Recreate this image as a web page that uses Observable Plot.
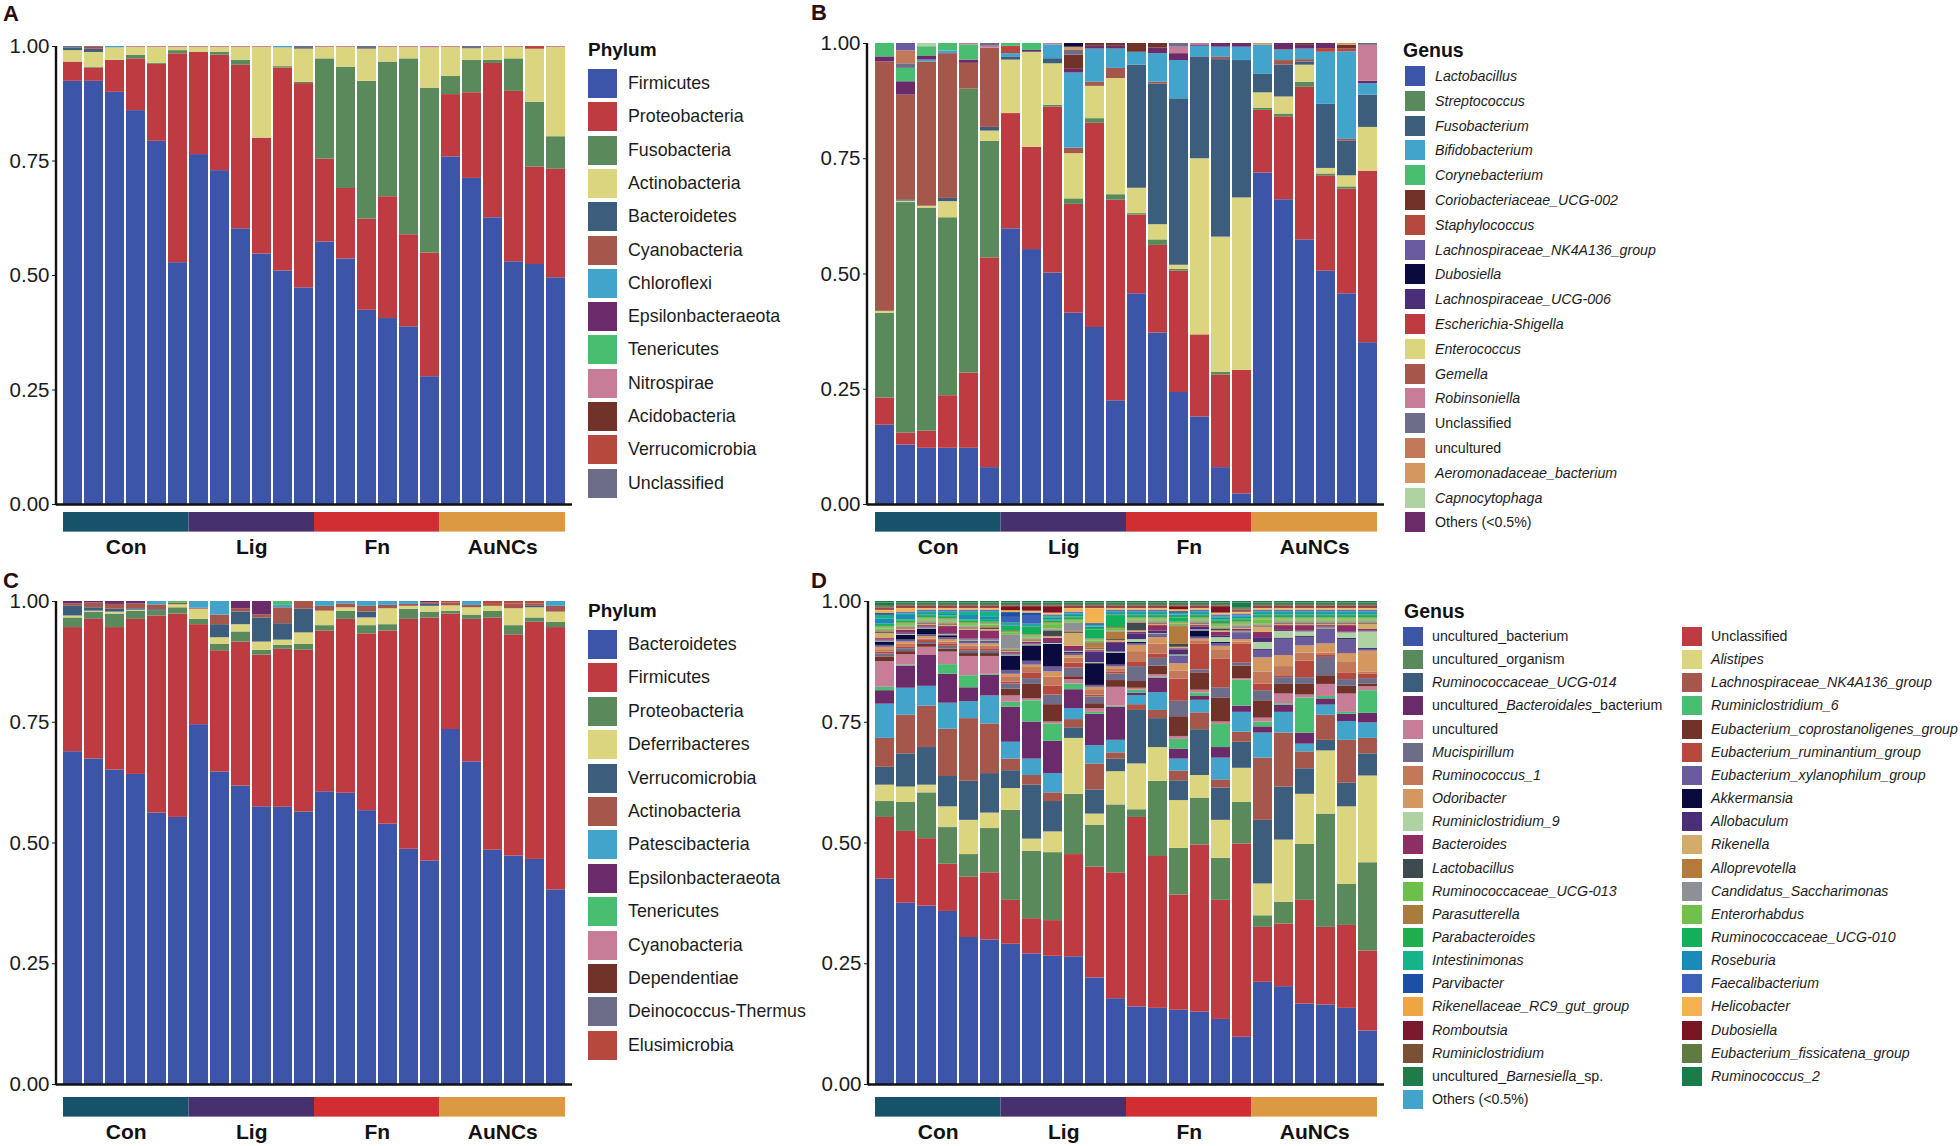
<!DOCTYPE html>
<html><head><meta charset="utf-8">
<script src="https://cdn.jsdelivr.net/npm/d3@7"></script>
<script src="https://cdn.jsdelivr.net/npm/@observablehq/plot@0.6"></script>
<style>
html,body{margin:0;padding:0;background:#fff}
body{width:1960px;height:1146px;position:relative;overflow:hidden;font-family:Arial,"Liberation Sans",sans-serif;color:#1c1c1c}
.abs{position:absolute}
.letter{position:absolute;font-weight:bold;font-size:22px;line-height:22px;color:#2a0d0d}
.ltitle{position:absolute;font-weight:bold;white-space:nowrap;color:#111}
.sw{position:absolute}
.lt{position:absolute;white-space:nowrap;color:#1c1c1c}
</style></head><body>
<script>
// ---------- shared ----------
const samples = ["Con1","Con2","Con3","Con4","Con5","Con6","Lig1","Lig2","Lig3","Lig4","Lig5","Lig6","Fn1","Fn2","Fn3","Fn4","Fn5","Fn6","AuNCs1","AuNCs2","AuNCs3","AuNCs4","AuNCs5","AuNCs6"];
const groups = ["Con","Lig","Fn","AuNCs"];
const groupSizes = [6,6,6,6];
const groupColors = ["#16536B","#46306E","#D12E33","#DB9A41"];
const yTicks = [0,0.25,0.5,0.75,1];

// ---------- Panel A: Phylum ----------
const aFirmicutes      = [.924,.924,.900,.860,.793,.528,.764,.729,.602,.547,.510,.473,.573,.536,.424,.406,.388,.279,.759,.712,.626,.530,.524,.495];
const aProteobacteria  = [.042,.029,.070,.113,.168,.456,.223,.252,.357,.253,.443,.446,.181,.154,.199,.266,.201,.270,.136,.187,.337,.372,.213,.237];
const aFusobacteria    = [0,.002,0,.008,.002,.007,0,.006,.011,0,.003,.003,.219,.265,.301,.294,.384,.360,.040,.071,.007,.071,.141,.071];
const aActinobacteria  = [.025,.032,.027,.017,.035,.007,.011,.011,.028,.198,.041,.072,.025,.043,.070,.032,.025,.088,.063,.025,.028,.025,.116,.195];
const aBacteroidetes   = [.006,.007,0,0,0,0,0,0,0,0,0,0,0,0,0,0,0,0,0,0,0,0,0,0];
const aCyanobacteria   = [0,0,0,0,0,0,0,0,0,0,0,0,0,0,0,0,0,0,0,0,0,0,0,0];
const aChloroflexi     = [0,0,.003,0,0,0,0,0,0,0,.003,0,0,0,0,0,0,0,0,0,0,0,0,0];
const aEpsilon         = [0,0,0,0,0,0,0,0,0,0,0,0,0,0,0,0,0,0,0,0,0,0,0,0];
const aTenericutes     = [0,0,0,0,0,0,0,0,0,0,0,0,0,0,0,0,0,0,0,0,0,0,0,0];
const aNitrospirae     = [0,0,0,.002,.002,.002,.002,.002,.002,.002,0,0,.002,.002,0,.002,.002,.003,.002,0,.002,.002,0,.002];
const aAcidobacteria   = [0,0,0,0,0,0,0,0,0,0,0,0,0,0,0,0,0,0,0,0,0,0,0,0];
const aVerrucomicrobia = [0,.004,0,0,0,0,0,0,0,0,0,0,0,0,0,0,0,0,0,0,0,0,.006,0];
const aUnclassified    = [.003,.002,0,0,0,0,0,0,0,0,0,.006,0,0,.006,0,0,0,0,.005,0,0,0,0];
const aLegend = ["Firmicutes","Proteobacteria","Fusobacteria","Actinobacteria","Bacteroidetes","Cyanobacteria","Chloroflexi","Epsilonbacteraeota","Tenericutes","Nitrospirae","Acidobacteria","Verrucomicrobia","Unclassified"];
const aColors = ["#3C55A9","#BE3B41","#5A8A5C","#DCD57F","#3C5D7B","#A4574A","#42A3CB","#6B2B6B","#49BE71","#C77C98","#71322A","#B7483E","#6E6D89"];

// ---------- Panel B: Genus ----------
const bLactobacillus   = [.172,.129,.122,.122,.122,.080,.598,.553,.502,.415,.384,.225,.457,.372,.243,.190,.080,.023,.719,.661,.574,.506,.457,.351];
const bEscherichia     = [.059,.026,.037,.114,.163,.455,.250,.222,.360,.236,.443,.435,.171,.190,.263,.178,.201,.268,.136,.180,.331,.207,.227,.372];
const bStreptococcus   = [.184,.500,.484,.386,.616,.253,0,0,.004,.012,.010,.012,.003,.012,.004,0,.006,0,.004,.006,.011,.004,.005,0];
const bEnterococcus    = [.004,.003,.004,.035,0,.022,.116,.206,.090,.098,.070,.252,.055,.033,.009,.382,.293,.374,.034,.037,.037,.012,.024,.095];
const bFusobacterium   = [0,.003,0,.007,0,.008,.007,0,.011,0,0,0,.267,.305,.361,.221,.385,.298,.040,.069,.007,.139,.075,.070];
const bGemella         = [.541,.227,.313,.314,.056,.172,0,0,0,.012,.009,.022,0,.004,0,0,.005,0,0,.010,.005,0,.004,0];
const bBifidobacterium = [0,0,.004,.006,0,0,.007,0,.030,.163,.072,.042,.028,.062,.083,.023,.022,.029,.063,.023,.023,.113,.190,.025];
const bStaphylococcus  = [0,0,0,0,0,0,.016,0,0,0,0,0,0,0,0,0,0,0,0,0,0,.008,.006,0];
const bOthers          = [.011,.029,.009,0,.007,0,0,.004,0,.008,.006,.006,0,.012,.015,.003,.008,.008,0,.014,.008,.011,0,.005];
const bCoriobacteriaceae = [0,0,0,0,0,0,0,0,0,.031,.006,.006,.019,.010,0,0,0,0,0,0,.004,0,.008,0];
const bCorynebacterium = [.029,.029,.020,.016,.033,0,.006,.015,0,0,0,0,0,0,0,0,0,0,0,0,0,0,0,0];
const bRobinsoniella   = [0,0,0,0,.003,.004,0,0,.003,0,0,0,0,0,.014,.003,0,0,0,0,0,0,0,.078];
const bUnclassified    = [0,.010,0,0,0,.006,0,0,0,.010,0,0,0,0,.008,0,0,0,0,0,0,0,0,.004];
const bLachnoUCG006    = [0,0,0,0,0,0,0,0,0,0,0,0,0,0,0,0,0,0,0,0,0,0,0,0];
const bUncultured      = [0,.028,0,0,0,0,0,0,0,0,0,0,0,0,0,0,0,0,0,0,0,0,0,0];
const bAeromonadaceae  = [0,0,0,0,0,0,0,0,0,.007,0,0,0,0,0,0,0,0,.004,0,0,0,.004,0];
const bCapnocytophaga  = [0,0,.007,0,0,0,0,0,0,0,0,0,0,0,0,0,0,0,0,0,0,0,0,0];
const bLachnoNK        = [0,.016,0,0,0,0,0,0,0,0,0,0,0,0,0,0,0,0,0,0,0,0,0,0];
const bDubosiella      = [0,0,0,0,0,0,0,0,0,.008,0,0,0,0,0,0,0,0,0,0,0,0,0,0];
const bLegend = ["Lactobacillus","Streptococcus","Fusobacterium","Bifidobacterium","Corynebacterium","Coriobacteriaceae_UCG-002","Staphylococcus","Lachnospiraceae_NK4A136_group","Dubosiella","Lachnospiraceae_UCG-006","Escherichia-Shigella","Enterococcus","Gemella","Robinsoniella","Unclassified","uncultured","Aeromonadaceae_bacterium","Capnocytophaga","Others (<0.5%)"];
const bColors = ["#3C55A9","#5A8A5C","#3C5D7B","#42A3CB","#49BE71","#71322A","#B7483E","#6A5B9F","#0B0A3F","#4A2F78","#BE3B41","#DCD57F","#A4574A","#C77C98","#6E6D89","#C4785A","#D4975F","#AFD2A2","#6B2B6B"];

// ---------- Panel C: Phylum ----------
const cBacteroidetes   = [.689,.674,.651,.642,.562,.553,.745,.647,.618,.575,.574,.564,.606,.603,.567,.539,.487,.463,.735,.668,.485,.473,.466,.403];
const cFirmicutes      = [.257,.289,.295,.321,.408,.421,.207,.251,.298,.314,.327,.335,.333,.360,.366,.400,.476,.503,.239,.295,.481,.458,.491,.543];
const cProteobacteria  = [.020,.015,.028,.017,.010,.013,.011,.013,.021,.010,.008,.012,.011,.017,.017,.013,.021,.012,.006,.009,.014,.019,.009,.011];
const cDeferribacteres = [.004,.002,.004,.002,0,.006,.021,.014,.015,.017,.011,.024,.030,.007,.016,.033,.006,.012,.011,.015,.010,.035,.021,.021];
const cVerrucomicrobia = [.020,.007,.006,.003,.003,0,0,.027,.026,.050,.034,.049,0,0,.012,0,0,.004,0,0,0,0,.003,0];
const cActinobacteria  = [.005,.010,.010,.010,.010,.003,.002,.020,.007,.006,.033,.016,.010,.008,.012,.007,.004,.003,.006,.005,.004,.010,.005,.012];
const cPatescibacteria = [0,0,0,0,.007,0,.014,.028,0,0,.005,0,.010,.005,.010,.008,.006,0,0,.008,0,0,0,.010];
const cEpsilon         = [.005,.003,.006,.005,0,0,0,0,.015,.028,0,0,0,0,0,0,0,.003,0,0,0,0,0,0];
const cTenericutes     = [0,0,0,0,0,.004,0,0,0,0,.008,0,0,0,0,0,0,0,0,0,0,0,0,0];
const cCyanobacteria   = [0,0,0,0,0,0,0,0,0,0,0,0,0,0,0,0,0,0,0,0,0,0,0,0];
const cDependentiae    = [0,0,0,0,0,0,0,0,0,0,0,0,0,0,0,0,0,0,0,0,0,0,0,0];
const cDeinococcus     = [0,0,0,0,0,0,0,0,0,0,0,0,0,0,0,0,0,0,0,0,0,0,0,0];
const cElusimicrobia   = [0,0,0,0,0,0,0,0,0,0,0,0,0,0,0,0,0,0,.003,0,.006,.005,.005,0];
const cLegend = ["Bacteroidetes","Firmicutes","Proteobacteria","Deferribacteres","Verrucomicrobia","Actinobacteria","Patescibacteria","Epsilonbacteraeota","Tenericutes","Cyanobacteria","Dependentiae","Deinococcus-Thermus","Elusimicrobia"];
const cColors = ["#3C55A9","#BE3B41","#5A8A5C","#DCD57F","#3C5D7B","#A4574A","#42A3CB","#6B2B6B","#49BE71","#C77C98","#71322A","#6E6D89","#B7483E"];

// ---------- Panel D: Genus ----------
const dUnculturedBacterium = [.426,.376,.370,.359,.305,.300,.291,.271,.266,.265,.221,.178,.161,.158,.154,.150,.135,.098,.212,.203,.167,.165,.158,.111];
const dUnclassified        = [.128,.149,.140,.098,.125,.139,.091,.073,.074,.212,.230,.261,.393,.315,.239,.347,.247,.401,.114,.130,.215,.161,.172,.166];
const dUnculturedOrganism  = [.033,.060,.095,.076,.047,.092,.187,.140,.141,.125,.087,.141,.016,.156,.097,.097,.087,.086,.024,.045,.116,.235,.085,.183];
const dAlistipes           = [.034,.032,.016,.043,.071,.032,.045,.025,.043,.116,.023,.069,.095,.070,.099,.047,.079,.071,.066,.129,.104,.131,.161,.180];
const dRumUCG014           = [.037,.069,.078,.063,.081,.082,.037,.112,.063,.022,.050,.026,.111,.060,.041,.095,.067,.054,.132,.110,.053,.022,.049,.046];
const dLachnoNK            = [.060,.080,.086,.098,.130,.103,.024,.020,.018,.017,.054,.013,.012,.017,.020,.035,.017,.021,.129,.112,.035,.052,.089,.032];
const dOthers              = [.071,.056,.041,.054,.035,.058,.035,.034,.040,.023,.038,.026,.019,.037,.025,.026,.045,.041,.052,.043,.016,.021,.039,.032];
const dUnculturedBacteroidales = [.028,.046,.064,.060,.029,.043,.073,.077,.067,.039,.065,.069,.005,.030,.021,.008,.022,.013,.013,.015,.023,.013,.015,.020];
const dRuminiclostridium6  = [.007,.002,0,.020,.025,.002,.010,.044,.036,.012,.004,.002,.006,.002,.020,.007,.048,.054,.010,.003,.073,.005,.004,.047];
const dUncultured          = [.053,.022,.017,.026,.040,.037,.013,.004,.004,.009,.008,.039,.004,.005,.006,.006,.005,.003,.008,.020,.006,.025,.038,.008];
const dEcopro              = [.010,.006,.006,.006,.006,.006,.014,.030,.036,.006,.010,.014,.014,.018,.041,.036,.050,.026,.036,.020,.022,.018,.016,.006];
const dMucispirillum       = [.006,.006,.004,.006,.006,.006,.011,.012,.020,.018,.014,.014,.031,.016,.032,.006,.021,.006,.021,.014,.014,.038,.014,.011];
const dErumin              = [.004,.004,.004,.004,.004,.004,.004,.012,.018,.010,.004,.004,.010,.009,.046,.054,.060,.039,.014,.004,.034,.004,.014,.009];
const dRuminococcus1       = [.005,.005,.003,.005,.005,.005,.011,.011,.019,.011,.011,.005,.021,.021,.017,.005,.019,.005,.025,.019,.017,.005,.023,.005];
const dOdoribacter         = [.005,.005,.005,.005,.005,.005,.005,.005,.011,.005,.005,.005,.013,.013,.015,.005,.007,.005,.029,.023,.015,.019,.017,.043];
const dExylano             = [.004,.004,.004,.004,.004,.004,.008,.008,.010,.004,.004,.004,.004,.004,.014,.004,.006,.012,.016,.034,.018,.029,.029,.004];
const dAkkermansia         = [.007,.010,.012,.004,.002,.002,.030,.032,.047,.002,.045,.025,.002,.002,.002,.013,.002,.002,.002,.002,.002,.002,.002,.002];
const dRuminiclostridium9  = [.002,.002,.002,.002,.002,.002,.002,.002,.002,.002,.002,.002,.006,.002,.002,.002,.010,.002,.014,.014,.009,.002,.012,.034];
const dAllobaculum         = [.002,.002,.002,.002,.002,.002,.002,.002,.002,.002,.022,.018,.012,.006,.010,.006,.004,.002,.010,.002,.002,.002,.002,.002];
const dBacteroides         = [.003,.006,.003,.015,.018,.017,.003,.003,.009,.009,.003,.003,.003,.011,.003,.003,.007,.003,.011,.010,.011,.003,.013,.003];
const dRikenella           = [.011,.003,.003,.003,.003,.003,.003,.003,.003,.027,.003,.003,.003,.003,.003,.003,.003,.003,.011,.003,.003,.003,.003,.011];
const dLactobacillus       = [.002,.002,.002,.002,.002,.002,.002,.002,.012,.002,.002,.002,.016,.002,.006,.002,.004,.002,.002,.002,.002,.002,.002,.002];
const dAlloprevotella      = [.002,.002,.002,.002,.002,.002,.002,.002,.002,.002,.010,.016,.002,.002,.037,.002,.002,.002,.002,.002,.002,.002,.002,.002];
const dCandidatus          = [.002,.002,.002,.002,.002,.002,.030,.002,.002,.017,.002,.002,.002,.002,.002,.002,.002,.002,.002,.002,.002,.002,.002,.002];
const dRumUCG013           = [.003,.003,.003,.003,.003,.003,.003,.003,.009,.003,.003,.003,.003,.003,.003,.003,.003,.003,.009,.003,.003,.003,.003,.003];
const dEnterorhabdus       = [.002,.002,.002,.002,.002,.002,.002,.002,.002,.002,.002,.002,.002,.002,.002,.002,.002,.002,.002,.002,.002,.002,.002,.002];
const dParasutterella      = [.002,.002,.002,.002,.002,.002,.002,.002,.002,.002,.002,.002,.002,.002,.002,.002,.002,.002,.002,.002,.002,.002,.002,.002];
const dRumUCG010           = [.003,.003,.003,.003,.003,.003,.008,.013,.003,.003,.019,.023,.003,.003,.009,.003,.005,.003,.003,.003,.003,.003,.003,.003];
const dParabacteroides     = [.003,.003,.003,.003,.003,.003,.003,.003,.003,.003,.003,.003,.003,.003,.003,.003,.003,.003,.003,.003,.003,.003,.003,.003];
const dRoseburia           = [.011,.009,.003,.003,.009,.006,.003,.003,.003,.003,.003,.003,.003,.003,.003,.003,.003,.003,.003,.003,.003,.003,.003,.003];
const dIntestinimonas      = [.007,.003,.003,.005,.007,.011,.003,.003,.003,.003,.003,.003,.003,.003,.003,.003,.003,.003,.003,.003,.003,.003,.003,.003];
const dFaecalibacterium    = [.002,.002,.002,.002,.002,.002,.012,.018,.002,.002,.002,.002,.002,.002,.002,.002,.002,.002,.002,.002,.002,.002,.002,.002];
const dParvibacter         = [.002,.002,.002,.002,.002,.002,.010,.005,.002,.002,.002,.002,.002,.002,.002,.002,.002,.002,.002,.002,.002,.002,.002,.002];
const dHelicobacter        = [.005,.006,.002,.002,.002,.002,.002,.002,.002,.006,.030,.002,.002,.002,.002,.002,.002,.002,.002,.002,.002,.002,.002,.002];
const dRC9                 = [.002,.002,.002,.002,.002,.002,.002,.002,.002,.002,.002,.002,.002,.002,.002,.002,.002,.002,.002,.002,.002,.002,.002,.002];
const dDubosiella          = [.002,.002,.002,.002,.002,.002,.007,.008,.012,.002,.002,.002,.002,.002,.005,.002,.012,.002,.002,.002,.002,.002,.002,.002];
const dRomboutsia          = [.002,.002,.002,.002,.002,.002,.002,.002,.002,.002,.002,.002,.002,.002,.002,.002,.002,.002,.002,.002,.002,.002,.002,.002];
const dEfissicatena        = [.002,.002,.002,.002,.002,.002,.002,.002,.002,.002,.002,.002,.002,.002,.002,.002,.002,.002,.002,.002,.002,.002,.002,.002];
const dRuminiclostridium   = [.002,.002,.002,.002,.002,.002,.002,.002,.002,.002,.002,.002,.002,.002,.002,.002,.002,.002,.002,.002,.002,.002,.002,.002];
const dRuminococcus2       = [.007,.003,.003,.003,.003,.003,.003,.003,.003,.003,.003,.003,.003,.003,.003,.003,.003,.011,.003,.003,.003,.003,.003,.003];
const dBarnesiella         = [.003,.003,.003,.003,.003,.003,.003,.003,.003,.003,.003,.003,.003,.003,.003,.003,.003,.003,.003,.003,.003,.003,.003,.003];
const dLegendLeft = ["uncultured_bacterium","uncultured_organism","Ruminococcaceae_UCG-014","uncultured_Bacteroidales_bacterium","uncultured","Mucispirillum","Ruminococcus_1","Odoribacter","Ruminiclostridium_9","Bacteroides","Lactobacillus","Ruminococcaceae_UCG-013","Parasutterella","Parabacteroides","Intestinimonas","Parvibacter","Rikenellaceae_RC9_gut_group","Romboutsia","Ruminiclostridium","uncultured_Barnesiella_sp.","Others (<0.5%)"];
const dColorsLeft = ["#3C55A9","#5A8A5C","#3C5D7B","#6B2B6B","#C77C98","#6E6D89","#C4785A","#D4975F","#AFD2A2","#8F2D65","#3F4A50","#6CBF47","#A97B3D","#1EAF4C","#14B48A","#1E4FA6","#F1A542","#7B1A2F","#7A5135","#1F7B49","#42A3CB"];
const dLegendRight = ["Unclassified","Alistipes","Lachnospiraceae_NK4A136_group","Ruminiclostridium_6","Eubacterium_coprostanoligenes_group","Eubacterium_ruminantium_group","Eubacterium_xylanophilum_group","Akkermansia","Allobaculum","Rikenella","Alloprevotella","Candidatus_Saccharimonas","Enterorhabdus","Ruminococcaceae_UCG-010","Roseburia","Faecalibacterium","Helicobacter","Dubosiella","Eubacterium_fissicatena_group","Ruminococcus_2"];
const dColorsRight = ["#BE3B41","#DCD57F","#A4574A","#49BE71","#71322A","#B7483E","#6A5B9F","#0B0A3F","#4A2F78","#D3AB6B","#B27B3B","#8D9195","#72C04C","#12B05A","#1A8BB9","#3B62B8","#F3B14F","#7A1623","#5F7B3F","#1A7B4B"];

// ---------- series in stacking order (bottom to top) ----------
const seriesA = [["Firmicutes",aFirmicutes],["Proteobacteria",aProteobacteria],["Fusobacteria",aFusobacteria],["Actinobacteria",aActinobacteria],["Bacteroidetes",aBacteroidetes],["Cyanobacteria",aCyanobacteria],["Chloroflexi",aChloroflexi],["Epsilonbacteraeota",aEpsilon],["Tenericutes",aTenericutes],["Nitrospirae",aNitrospirae],["Acidobacteria",aAcidobacteria],["Verrucomicrobia",aVerrucomicrobia],["Unclassified",aUnclassified]];
const seriesB = [["Lactobacillus",bLactobacillus],["Escherichia-Shigella",bEscherichia],["Streptococcus",bStreptococcus],["Enterococcus",bEnterococcus],["Fusobacterium",bFusobacterium],["Gemella",bGemella],["Bifidobacterium",bBifidobacterium],["Staphylococcus",bStaphylococcus],["Others (<0.5%)",bOthers],["Coriobacteriaceae_UCG-002",bCoriobacteriaceae],["Corynebacterium",bCorynebacterium],["Robinsoniella",bRobinsoniella],["Unclassified",bUnclassified],["Lachnospiraceae_UCG-006",bLachnoUCG006],["uncultured",bUncultured],["Aeromonadaceae_bacterium",bAeromonadaceae],["Capnocytophaga",bCapnocytophaga],["Lachnospiraceae_NK4A136_group",bLachnoNK],["Dubosiella",bDubosiella]];
const seriesC = [["Bacteroidetes",cBacteroidetes],["Firmicutes",cFirmicutes],["Proteobacteria",cProteobacteria],["Deferribacteres",cDeferribacteres],["Verrucomicrobia",cVerrucomicrobia],["Actinobacteria",cActinobacteria],["Patescibacteria",cPatescibacteria],["Epsilonbacteraeota",cEpsilon],["Tenericutes",cTenericutes],["Cyanobacteria",cCyanobacteria],["Dependentiae",cDependentiae],["Deinococcus-Thermus",cDeinococcus],["Elusimicrobia",cElusimicrobia]];
const seriesD = [["uncultured_bacterium",dUnculturedBacterium],["Unclassified",dUnclassified],["uncultured_organism",dUnculturedOrganism],["Alistipes",dAlistipes],["Ruminococcaceae_UCG-014",dRumUCG014],["Lachnospiraceae_NK4A136_group",dLachnoNK],["Others (<0.5%)",dOthers],["uncultured_Bacteroidales_bacterium",dUnculturedBacteroidales],["Ruminiclostridium_6",dRuminiclostridium6],["uncultured",dUncultured],["Eubacterium_coprostanoligenes_group",dEcopro],["Mucispirillum",dMucispirillum],["Eubacterium_ruminantium_group",dErumin],["Ruminococcus_1",dRuminococcus1],["Odoribacter",dOdoribacter],["Eubacterium_xylanophilum_group",dExylano],["Akkermansia",dAkkermansia],["Ruminiclostridium_9",dRuminiclostridium9],["Allobaculum",dAllobaculum],["Bacteroides",dBacteroides],["Rikenella",dRikenella],["Lactobacillus",dLactobacillus],["Alloprevotella",dAlloprevotella],["Candidatus_Saccharimonas",dCandidatus],["Ruminococcaceae_UCG-013",dRumUCG013],["Enterorhabdus",dEnterorhabdus],["Parasutterella",dParasutterella],["Ruminococcaceae_UCG-010",dRumUCG010],["Parabacteroides",dParabacteroides],["Roseburia",dRoseburia],["Intestinimonas",dIntestinimonas],["Faecalibacterium",dFaecalibacterium],["Parvibacter",dParvibacter],["Helicobacter",dHelicobacter],["Rikenellaceae_RC9_gut_group",dRC9],["Dubosiella",dDubosiella],["Romboutsia",dRomboutsia],["Eubacterium_fissicatena_group",dEfissicatena],["Ruminiclostridium",dRuminiclostridium],["Ruminococcus_2",dRuminococcus2],["uncultured_Barnesiella_sp.",dBarnesiella]];

// ---------- helpers ----------
const FONT = "Arial, 'Liberation Sans', sans-serif";
function buildTable(series){
  const rows=[];
  for(const [taxon,vals] of series) vals.forEach((v,i)=>{ if(v>0) rows.push({sample:samples[i],taxon,value:v}); });
  return rows;
}
function place(el,left,top){ const d=document.createElement("div"); d.className="abs"; d.style.left=left+"px"; d.style.top=top+"px"; d.appendChild(el); document.body.appendChild(d); }

function panel(cfg){
  const {left,top,width,height,mL,mT,mB,series,legendDomain,colors,stripTop} = cfg;
  const table = buildTable(series);
  const plot = Plot.plot({
    width, height, marginLeft:mL, marginRight:2, marginTop:mT, marginBottom:mB,
    style:{fontFamily:FONT,fontSize:"20.5px",color:"#1c1c1c",background:"transparent",overflow:"visible"},
    x:{domain:samples,paddingInner:0.1,paddingOuter:0.05,axis:null},
    y:{domain:[0,1],ticks:yTicks,tickFormat:d3.format(".2f"),label:null,tickSize:4,tickPadding:3},
    color:{domain:legendDomain,range:colors},
    marks:[
      Plot.barY(table, Plot.stackY({order:series.map(d=>d[0]),offset:"normalize"},{x:"sample",y:"value",fill:"taxon"})),
      Plot.ruleY([0],{stroke:"#111",strokeWidth:2.4})
    ]
  });
  const ys = plot.scale("y");
  d3.select(plot).append("line")
    .attr("x1",mL).attr("x2",mL).attr("y1",ys.apply(1)).attr("y2",ys.apply(0)+1.2)
    .attr("stroke","#111").attr("stroke-width",2.4);
  place(plot,left,top);

  const xs = plot.scale("x");
  const x0 = xs.apply(samples[0]);
  const x1 = xs.apply(samples[samples.length-1]) + xs.bandwidth;
  let cum=0;
  const groupRows = groups.map((g,i)=>{ const r={group:g,start:cum,end:cum+groupSizes[i]}; cum+=groupSizes[i]; return r; });
  const strip = Plot.plot({
    width, height:58, marginLeft:x0, marginRight:width-x1, marginTop:7, marginBottom:0,
    style:{fontFamily:FONT,background:"transparent",overflow:"visible",color:"#111"},
    x:{domain:[0,samples.length],axis:null},
    y:{domain:[-1.6,1],axis:null},
    color:{domain:groups,range:groupColors},
    marks:[
      Plot.rect(groupRows,{x1:"start",x2:"end",y1:0,y2:1,fill:"group"}),
      Plot.text(groupRows,{x:d=>(d.start+d.end)/2,y:-0.75,text:"group",fontWeight:"bold",fontSize:21,fill:"#111"})
    ]
  });
  place(strip,left,stripTop);
}

function labelNode(name, italic){
  const span=document.createElement("span");
  const plain=["Unclassified","uncultured","uncultured_bacterium","uncultured_organism","Others (<0.5%)"];
  if(!italic || plain.includes(name)){ span.textContent=name; return span; }
  if(name.startsWith("uncultured_")){
    const rest=name.slice(11); const k=rest.indexOf("_");
    span.appendChild(document.createTextNode("uncultured_"));
    const i=document.createElement("i"); i.textContent=rest.slice(0,k); span.appendChild(i);
    span.appendChild(document.createTextNode(rest.slice(k)));
    return span;
  }
  const i=document.createElement("i"); i.textContent=name; span.appendChild(i); return span;
}

function legend(cfg){
  const {title,titleLeft,titleTop,titleSize,items,colors,swLeft,firstTop,pitch,sw,swH,textLeft,fontSize,italic,showTitle} = cfg;
  if(showTitle!==false){
    const t=document.createElement("div"); t.className="ltitle";
    t.style.left=titleLeft+"px"; t.style.top=titleTop+"px"; t.style.fontSize=titleSize+"px"; t.style.lineHeight=(titleSize+3)+"px";
    t.textContent=title; document.body.appendChild(t);
  }
  items.forEach((name,i)=>{
    const y=firstTop+i*pitch;
    const s=document.createElement("div"); s.className="sw";
    s.style.left=swLeft+"px"; s.style.top=y+"px"; s.style.width=sw+"px"; s.style.height=swH+"px"; s.style.background=colors[i];
    document.body.appendChild(s);
    const l=document.createElement("div"); l.className="lt";
    l.style.left=textLeft+"px"; l.style.top=y+"px"; l.style.height=swH+"px"; l.style.lineHeight=swH+"px"; l.style.fontSize=fontSize+"px";
    l.appendChild(labelNode(name,italic));
    document.body.appendChild(l);
  });
}
function letter(txt,left,top){ const d=document.createElement("div"); d.className="letter"; d.style.left=left+"px"; d.style.top=top+"px"; d.textContent=txt; document.body.appendChild(d); }

// ---------- draw ----------
panel({left:0,top:30,width:574,height:480,mL:56,mT:16,mB:6,series:seriesA,legendDomain:aLegend,colors:aColors,stripTop:505});
panel({left:800,top:30,width:586,height:480,mL:67,mT:13,mB:6,series:seriesB,legendDomain:bLegend,colors:bColors,stripTop:505});
panel({left:0,top:590,width:574,height:500,mL:56,mT:11,mB:6,series:seriesC,legendDomain:cLegend,colors:cColors,stripTop:1090});
panel({left:800,top:590,width:586,height:500,mL:68,mT:11,mB:6,series:seriesD,legendDomain:dLegendLeft.concat(dLegendRight),colors:dColorsLeft.concat(dColorsRight),stripTop:1090});

letter("A",3,3); letter("B",811,2); letter("C",3,570); letter("D",811,570);

legend({title:"Phylum",titleLeft:588,titleTop:39,titleSize:19,items:aLegend,colors:aColors,swLeft:588,firstTop:69,pitch:33.3,sw:29,swH:29,textLeft:628,fontSize:17.8,italic:false});
legend({title:"Phylum",titleLeft:588,titleTop:600,titleSize:19,items:cLegend,colors:cColors,swLeft:588,firstTop:630,pitch:33.4,sw:29,swH:29,textLeft:628,fontSize:17.8,italic:false});
legend({title:"Genus",titleLeft:1403,titleTop:39,titleSize:19.5,items:bLegend,colors:bColors,swLeft:1405,firstTop:66,pitch:24.8,sw:20,swH:20,textLeft:1435,fontSize:14.2,italic:true});
legend({title:"Genus",titleLeft:1404,titleTop:600,titleSize:19.5,items:dLegendLeft,colors:dColorsLeft,swLeft:1403,firstTop:627,pitch:23.15,sw:20,swH:19,textLeft:1432,fontSize:14.2,italic:true});
legend({showTitle:false,items:dLegendRight,colors:dColorsRight,swLeft:1682,firstTop:627,pitch:23.15,sw:20,swH:19,textLeft:1711,fontSize:14.2,italic:true});
</script>
</body></html>
